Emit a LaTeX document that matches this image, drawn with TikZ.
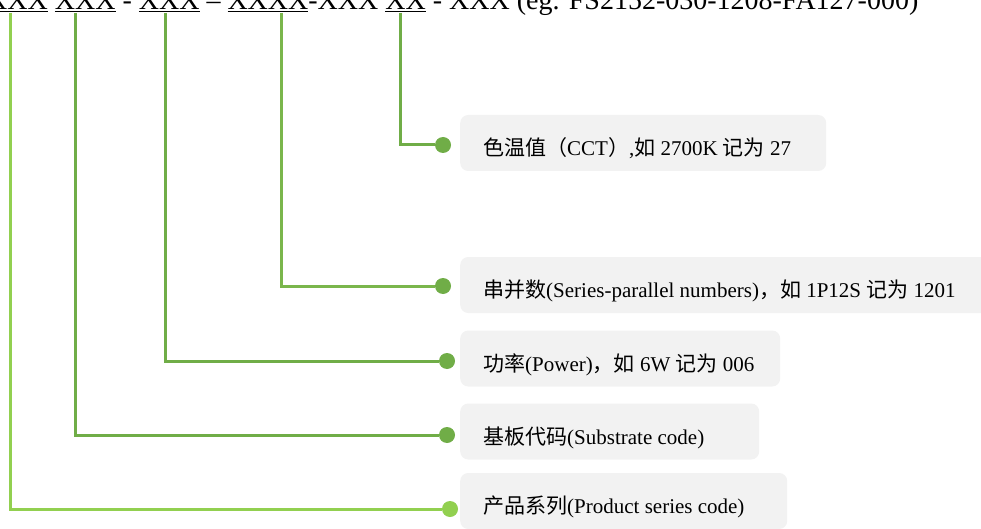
\documentclass[tikz,border=0pt]{standalone}
\usepackage{fontspec}
\setmainfont{Liberation Serif}
\newfontfamily\cjk{Noto Sans CJK SC}
\definecolor{gA}{HTML}{70AD47}
\definecolor{gB}{HTML}{92D050}
\definecolor{gC}{HTML}{7AB64C}
\definecolor{boxgray}{HTML}{F2F2F2}
\newsavebox\ulbox
\newcommand\myul[1]{\sbox\ulbox{#1}\rlap{\rule[-3pt]{\wd\ulbox}{1.8pt}}\usebox\ulbox}
\begin{document}
\begin{tikzpicture}[x=1pt,y=-1pt,
  conn/.style={line width=3pt},
  dot/.style={circle,inner sep=0pt,minimum size=16pt},
  infobox/.style={fill=boxgray, rounded corners=8pt, anchor=west, inner xsep=23pt, inner ysep=0pt,
    minimum height=56pt, text height=25pt, text depth=0pt, font=\fontsize{21}{25}\selectfont}]
\useasboundingbox (0,0) rectangle (981,529);
\node[anchor=base west, inner sep=0pt, font=\fontsize{28}{32}\selectfont] (code) at (-13,9.5)
  {\myul{XXX} \myul{XXX} - \myul{XXX} – \myul{XXXX}-XXX \myul{XX} - XXX (eg. FS2152-030-1208-FA127-000)};
\node[infobox] (cct) at (460,143) {\makebox[320pt][l]{{\cjk 色温值（}CCT{\cjk ）},{\cjk 如} 2700K {\cjk 记为} 27}};
\node[infobox, minimum width=540pt] (ser) at (460,285) {\makebox[494pt][l]{{\cjk 串并数}(Series-parallel numbers){\cjk ，如} 1P12S {\cjk 记为} 1201}};
\node[infobox] (pow) at (460,358.5) {\makebox[274pt][l]{{\cjk 功率}(Power){\cjk ，如} 6W {\cjk 记为} 006}};
\node[infobox] (sub) at (460,431.5) {\makebox[253pt][l]{{\cjk 基板代码}(Substrate code)}};
\node[infobox] (pro) at (460,501) {\makebox[281pt][l]{{\cjk 产品系列}(Product series code)}};
\coordinate (t1) at (10,13);
\coordinate (t2) at (75,13);
\coordinate (t3) at (165,13);
\coordinate (t4) at (281,13);
\coordinate (t5) at (400,13);
\node[dot, fill=gA] (d5) at (443,145) {};
\node[dot, fill=gA] (d4) at (443,286) {};
\node[dot, fill=gA] (d3) at (447,361) {};
\node[dot, fill=gA] (d2) at (447,435) {};
\node[dot, fill=gB] (d1) at (450,509) {};
\draw[conn, gB] (t1) |- (d1);
\draw[conn, gA] (t2) |- (d2);
\draw[conn, gA] (t3) |- (d3);
\draw[conn, gC] (t4) |- (d4);
\draw[conn, gA] (t5) |- (d5);
\end{tikzpicture}
\end{document}
